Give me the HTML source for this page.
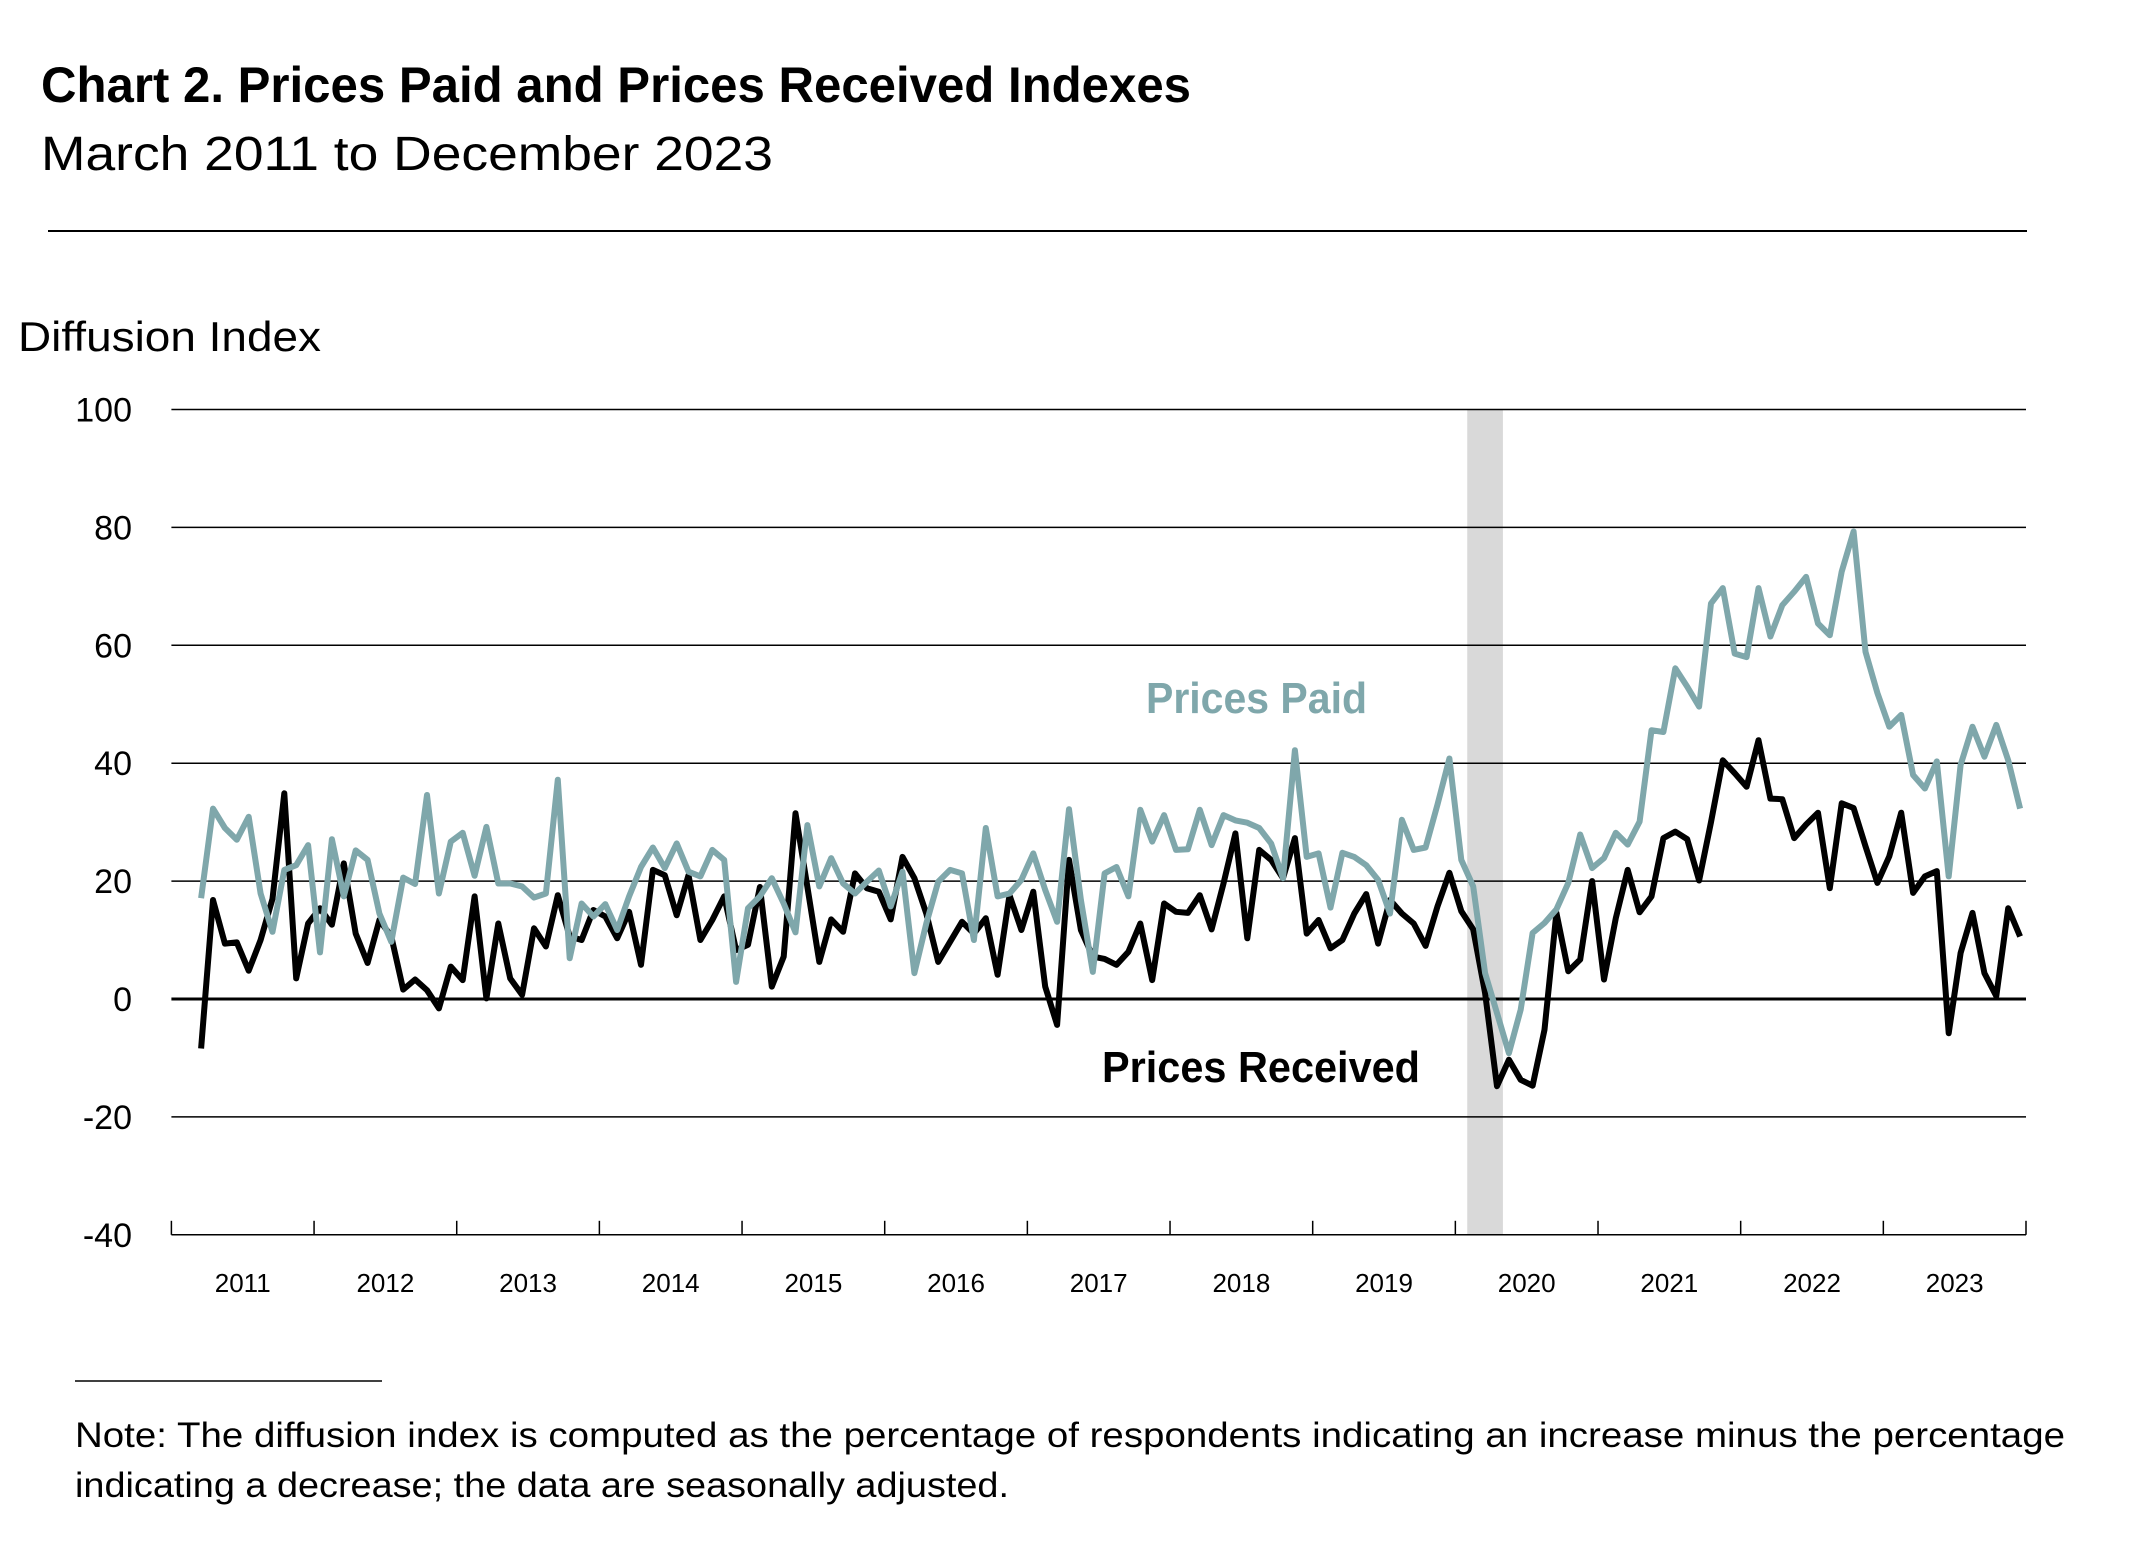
<!DOCTYPE html>
<html><head><meta charset="utf-8"><style>
html,body{margin:0;padding:0;background:#fff;}
svg{display:block;font-family:"Liberation Sans",sans-serif;}
</style></head><body>
<svg id="chart" width="2133" height="1549" viewBox="0 0 2133 1549" xmlns="http://www.w3.org/2000/svg">
<text x="41" y="102" font-size="50" font-weight="bold" textLength="1150" lengthAdjust="spacingAndGlyphs">Chart 2. Prices Paid and Prices Received Indexes</text>
<text x="41" y="170" font-size="48" textLength="732" lengthAdjust="spacingAndGlyphs">March 2011 to December 2023</text>
<line x1="48" y1="231" x2="2027" y2="231" stroke="#000" stroke-width="2"/>
<text x="18" y="351" font-size="42" textLength="303" lengthAdjust="spacingAndGlyphs">Diffusion Index</text>
<g id="plot"></g>
<text x="1146" y="713" font-size="44" font-weight="bold" fill="#7fa7ab" textLength="221" lengthAdjust="spacingAndGlyphs">Prices Paid</text>
<text x="1102" y="1082" font-size="44" font-weight="bold" fill="#000" textLength="318" lengthAdjust="spacingAndGlyphs">Prices Received</text>
<line x1="75" y1="1381" x2="382" y2="1381" stroke="#000" stroke-width="1.5"/>
<text x="75" y="1447" font-size="35" textLength="1990" lengthAdjust="spacingAndGlyphs">Note:  The diffusion index is computed as the percentage of respondents indicating an increase minus the percentage</text>
<text x="75" y="1497" font-size="35" textLength="934" lengthAdjust="spacingAndGlyphs">indicating a decrease; the data are seasonally adjusted.</text>
</svg>
<script>
const years = ["2011","2012","2013","2014","2015","2016","2017","2018","2019","2020","2021","2022","2023"];
const yTicks = [100,80,60,40,20,0,-20,-40];
const startMonthIndex = 2; // March 2011
const recessionMonths = [109, 112];
const pricesReceived = [-8.4,16.8,9.4,9.6,4.8,10,17,34.9,3.5,12.8,15.4,12.6,23,11.1,6.1,13.4,10.6,1.6,3.3,1.5,-1.6,5.5,3.2,17.4,0.1,12.8,3.5,0.7,12,8.9,17.6,10.6,10,15.1,14,10.3,14.8,5.8,21.9,21,14.2,21,10,13.4,17.4,8.3,9.2,19,2.1,7.2,31.5,19,6.3,13.5,11.4,21.3,18.8,18.2,13.5,24.1,20.5,14.5,6.3,9.7,13.1,11.1,13.7,4.1,17.6,11.7,18.2,2.1,-4.4,23.6,11.7,7.2,6.8,5.8,8,12.8,3.2,16.2,14.8,14.6,17.6,11.8,19.6,28.1,10.3,25.3,23.6,20.5,27.3,11.1,13.4,8.6,10,14.5,17.8,9.4,16.8,14.5,12.8,9,15.7,21.4,14.9,11.8,1,-14.8,-10.3,-13.7,-14.7,-5.2,14.6,4.7,6.7,20,3.3,13.7,21.9,14.7,17.4,27.3,28.4,27.1,20.1,30,40.5,38.3,36,43.9,34,33.9,27.3,29.6,31.6,18.8,33.2,32.4,25.9,19.7,24.2,31.6,18,20.8,21.7,-5.8,7.8,14.6,4.4,0.5,15.4,10.6];
const pricesPaid = [17.1,32.3,29,27,30.9,17.9,11.4,21.9,22.7,26.1,7.9,27.1,17.4,25.2,23.6,14.5,9.7,20.6,19.5,34.6,17.9,26.7,28.2,20.9,29.2,19.6,19.6,19.1,17.2,17.9,37.2,6.9,16.2,14,16.1,11.7,17.4,22.4,25.7,22.2,26.4,21.6,20.8,25.3,23.6,2.9,15.4,17.4,20.5,16.2,11.3,29.5,19.1,23.9,19.6,17.9,19.9,21.8,15.7,21.6,4.4,12.8,19.9,21.9,21.3,10,29,17.4,17.9,20.2,24.7,18.5,13.1,32.2,16.8,4.6,21.3,22.4,17.4,32.1,26.7,31.2,25.3,25.4,32.1,26.1,31.2,30.3,29.9,29,26.4,20.5,42.2,24.1,24.7,15.5,24.8,24.1,22.7,20.2,14.5,30.4,25.3,25.7,33,40.8,23.6,19.1,4.4,-2.4,-9.2,-1.8,11.2,12.9,15.2,19.7,27.9,22.2,23.9,28.2,26.2,30.1,45.6,45.3,56.1,53,49.6,67.1,69.7,58.6,58,69.7,61.5,66.8,69.1,71.6,63.7,61.7,72.5,79.3,58.9,51.9,46.2,48.2,38,35.7,40.3,20.8,39.7,46.2,41.1,46.5,40.5,32.3];

const NS = "http://www.w3.org/2000/svg";
const X0 = 171.4, X1 = 2026, Y0val = 999, PX_PER_UNIT = 5.895;
const totalMonths = years.length * 12;
const mw = (X1 - X0) / totalMonths;
function xMonth(m){ return X0 + (m + 0.5) * mw; }
function xEdge(m){ return X0 + m * mw; }
function yVal(v){ return Y0val - v * PX_PER_UNIT; }
const plot = document.getElementById('plot');
function mk(tag, attrs){ const e = document.createElementNS(NS, tag); for (const k in attrs) e.setAttribute(k, attrs[k]); plot.appendChild(e); return e; }

// recession shade
const shade = mk('rect', {x: xEdge(recessionMonths[0]), y: yVal(100), width: xEdge(recessionMonths[1]) - xEdge(recessionMonths[0]), height: yVal(-40) - yVal(100), fill: '#d9d9d9'});



// gridlines + y labels
yTicks.forEach(function(t){
  if (t !== -40 && t !== 0) {
    const g = mk('line', {x1: X0, x2: X1, y1: yVal(t), y2: yVal(t), stroke: '#000', 'stroke-width': 1.5});
    
    
  }
  const lb = mk('text', {x: 132, y: yVal(t) + 12, 'font-size': 34, 'text-anchor': 'end'});
  lb.textContent = String(t);
  
  
});

// x axis
const ax = mk('line', {x1: X0, x2: X1, y1: yVal(-40), y2: yVal(-40), stroke: '#000', 'stroke-width': 1.5});


for (let i = 0; i <= years.length; i++) {
  const tk = mk('line', {x1: xEdge(i*12), x2: xEdge(i*12), y1: yVal(-40), y2: yVal(-40) - 14, stroke: '#000', 'stroke-width': 1.5});
  
  
}
years.forEach(function(yr, i){
  const lb = mk('text', {x: xEdge(i*12 + 6), y: 1292, 'font-size': 26, 'text-anchor': 'middle'});
  lb.textContent = yr;
  
  
});

function drawSeries(vals, color, name){
  const pts = vals.map(function(v, i){ return xMonth(startMonthIndex + i).toFixed(1) + ',' + yVal(v).toFixed(1); }).join(' ');
  const pl = mk('polyline', {points: pts, fill: 'none', stroke: color, 'stroke-width': 6, 'stroke-linejoin': 'round'});
  
  
}
drawSeries(pricesReceived, '#000', 'prices-received-line');
drawSeries(pricesPaid, '#7fa7ab', 'prices-paid-line');

// zero line
const z = mk('line', {x1: X0, x2: X1, y1: yVal(0), y2: yVal(0), stroke: '#000', 'stroke-width': 3});


plot.insertBefore(z, plot.querySelector('polyline'));
</script>
</body></html>
